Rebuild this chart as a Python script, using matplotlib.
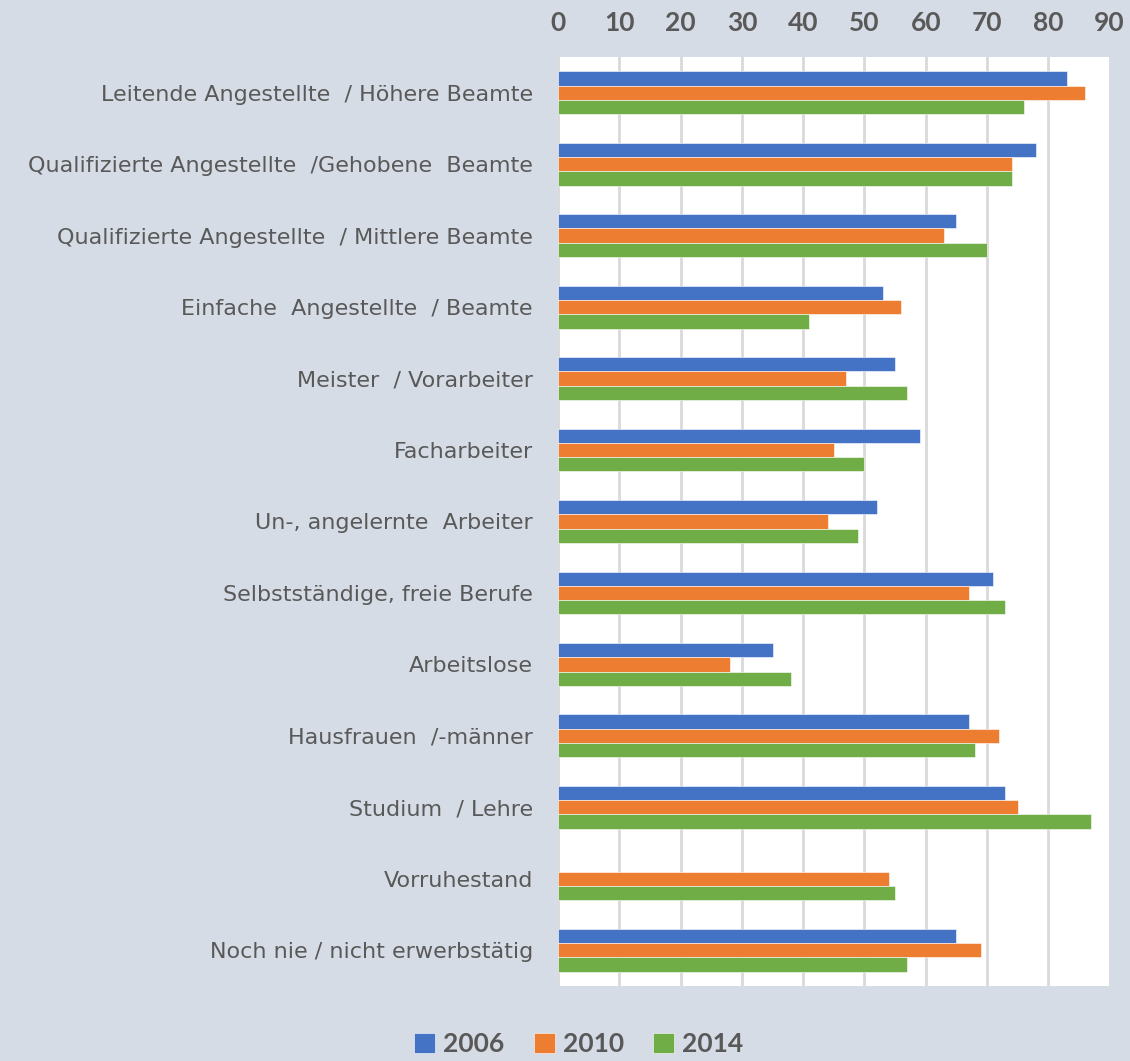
import numpy as np
import matplotlib
matplotlib.use('Agg')
import matplotlib.pyplot as plt

categories = [
    'Leitende Angestellte  / Höhere Beamte',
    'Qualifizierte Angestellte  /Gehobene  Beamte',
    'Qualifizierte Angestellte  / Mittlere Beamte',
    'Einfache  Angestellte  / Beamte',
    'Meister  / Vorarbeiter',
    'Facharbeiter',
    'Un-, angelernte  Arbeiter',
    'Selbstständige, freie Berufe',
    'Arbeitslose',
    'Hausfrauen  /-männer',
    'Studium  / Lehre',
    'Vorruhestand',
    'Noch nie / nicht erwerbstätig',
]
years = ['2006', '2010', '2014']
v2006 = [83, 78, 65, 53, 55, 59, 52, 71, 35, 67, 73, np.nan, 65]
v2010 = [86, 74, 63, 56, 47, 45, 44, 67, 28, 72, 75, 54, 69]
v2014 = [76, 74, 70, 41, 57, 50, 49, 73, 38, 68, 87, 55, 57]
colors = ['#4472c4', '#ed7d31', '#70ad47']

BG = '#d6dce5'
TXT = '#595959'
plt.rcParams['font.family'] = ['Lato', 'DejaVu Sans']

fig = plt.figure(figsize=(11.3, 10.61), dpi=100, facecolor=BG)
ax = fig.add_axes([0.4938, 0.0707, 0.982 - 0.4938, 0.9463 - 0.0707])
ax.set_facecolor('white')

y = np.arange(len(categories))
h = 0.2
for k, (vals, c, lab) in enumerate(zip([v2006, v2010, v2014], colors, years)):
    ax.barh(y + (k - 1) * h, vals, height=h, color=c, label=lab,
            edgecolor='white', linewidth=0.4, zorder=3)

ax.set_xlim(0, 90)
ax.set_ylim(len(categories) - 0.5, -0.5)
ax.set_xticks(np.arange(0, 91, 10))
ax.xaxis.tick_top()
ax.tick_params(axis='x', length=0, pad=16, labelsize=19, labelcolor=TXT)
for t in ax.get_xticklabels():
    t.set_fontweight('bold')
ax.set_yticks(y)
ax.set_yticklabels(categories, fontfamily='DejaVu Sans')
ax.tick_params(axis='y', length=0, pad=18, labelsize=16, labelcolor=TXT)
ax.grid(axis='x', color='#d9d9d9', linewidth=2, zorder=0)
for s in ax.spines.values():
    s.set_visible(False)

leg = fig.legend(loc='lower center', bbox_to_anchor=(0.512, -0.018), ncol=3,
                 frameon=False, fontsize=19, handlelength=0.8, handleheight=0.8,
                 handletextpad=0.3, columnspacing=1.1)
for t in leg.get_texts():
    t.set_color(TXT)
    t.set_fontweight('bold')

fig.savefig('out.png', dpi=100, facecolor=BG)
